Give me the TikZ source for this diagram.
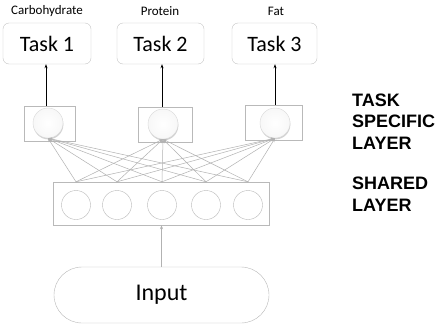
\documentclass[tikz,border=0pt]{standalone}
\usepackage{fontspec}
\setmainfont{Carlito}
\newfontfamily\labfont{Liberation Sans}
\usetikzlibrary{arrows.meta,shapes.misc,shadows}
\begin{document}
\begin{tikzpicture}[x=1pt,y=-1pt,
  taskbox/.style={draw=gray!45, rounded corners=6pt, minimum height=41pt, inner sep=0pt, font=\fontsize{22}{26}\selectfont},
  toplabel/.style={font=\fontsize{13}{15}\selectfont, inner sep=0pt},
  specbox/.style={draw=gray!55, minimum height=35pt, inner sep=0pt},
  ball/.style={circle, minimum size=30pt, inner sep=0pt, draw=gray!30, inner color=white, outer color=gray!6,
    drop shadow={opacity=0.35, shadow xshift=0.4pt, shadow yshift=-1.4pt}},
  unit/.style={circle, minimum size=29pt, inner sep=0pt, draw=gray!55},
  conn/.style={draw=gray!60, line width=0.5pt, -{Stealth[length=4pt,width=3pt]}},
  upar/.style={draw=black, line width=0.9pt, -{Stealth[length=4pt,width=3pt]}},
  sidelab/.style={font=\labfont\bfseries\fontsize{18}{21.5}\selectfont, align=left, anchor=west, inner sep=0pt}
]
\useasboundingbox (0,0) rectangle (439,327);
\fill[white] (0,0) rectangle (439,327);

% task output boxes
\node[taskbox, minimum width=88pt] (t1) at (47,43.5) {Task 1};
\node[taskbox, minimum width=87pt] (t2) at (160.5,43.5) {Task 2};
\node[taskbox, minimum width=85pt] (t3) at (274.5,43.5) {Task 3};
\node[toplabel] (l1) at (47,11) {Carbohydrate};
\node[toplabel] (l2) at (160,11) {Protein};
\node[toplabel] (l3) at (276,11) {Fat};

% task specific layer
\node[specbox, minimum width=51pt] (s1) at (49.5,123.5) {};
\node[specbox, minimum width=54pt] (s2) at (165,124.5) {};
\node[specbox, minimum width=57pt] (s3) at (273.5,122.5) {};
\node[ball] (b1) at (48,123) {};
\node[ball] (b2) at (163,124) {};
\node[ball] (b3) at (275,123) {};

% shared layer
\node[draw=gray!55, minimum width=216pt, minimum height=43pt, inner sep=0pt] (sh) at (161,203.5) {};
\node[unit] (u1) at (76,205) {};
\node[unit] (u2) at (117,205) {};
\node[unit] (u3) at (162,205) {};
\node[unit] (u4) at (206,205) {};
\node[unit] (u5) at (248,205) {};

% input
\node[draw=gray!55, rounded rectangle, minimum width=215pt, minimum height=56pt, inner sep=0pt, font=\fontsize{24}{28}\selectfont] (in) at (161.5,295) {Input};

% side labels
\node[sidelab] (tsl) at (352,121.5) {TASK\\SPECIFIC\\LAYER};
\node[sidelab] (shl) at (352,194) {SHARED\\LAYER};

% connectors
\draw[upar] (s1.north -| 46,0) -- (t1.south -| 46,0);
\draw[upar] (s2.north -| 162,0) -- (t2.south -| 162,0);
\draw[upar] (s3.north -| 275,0) -- (t3.south -| 275,0);

\foreach \u in {u1,u2,u3,u4,u5}{
  \foreach \b in {b1,b2,b3}{
    \draw[conn] (\u |- sh.north) -- (\b.south);
  }
}
\draw[conn] (in.north) -- (in.north |- sh.south);
\end{tikzpicture}
\end{document}
